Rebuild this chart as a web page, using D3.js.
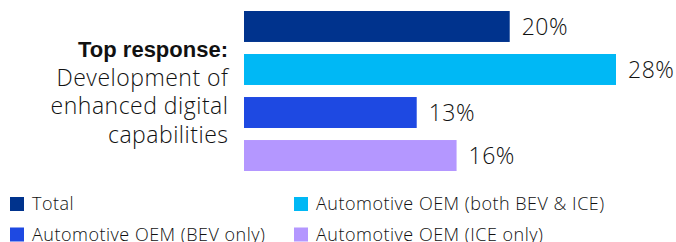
<!DOCTYPE html>
<html><head><meta charset="utf-8">
<script src="https://cdn.jsdelivr.net/npm/d3@7"></script>
<style>
body{margin:0;background:#fff;}
svg text{font-family:"Open Sans","Liberation Sans",Arial,sans-serif;fill:#111;font-weight:300;letter-spacing:0.5px;}
</style></head>
<body><svg id="c" width="676" height="242"></svg>
<script>
const series = ["Total","Automotive OEM (both BEV & ICE)","Automotive OEM (BEV only)","Automotive OEM (ICE only)"];
const values = [20,28,13,16];
const colors = ["#00338D","#00B8F5","#1E49E2","#B497FF"];
const titleBold = "Top response:";
const titleLines = ["Development of","enhanced digital","capabilities"];

const svg = d3.select("#c");
const x = d3.scaleLinear().domain([0,28]).range([244,616]);
const y = d3.scaleBand().domain(series).range([11,171]).paddingInner(0.28).paddingOuter(0);

svg.selectAll("rect.bar").data(series).join("rect").attr("class","bar")
  .attr("x",x(0)).attr("y",d=>y(d)).attr("height",y.bandwidth())
  .attr("width",(d,i)=>x(values[i])-x(0)).attr("fill",(d,i)=>colors[i]);

svg.selectAll("text.val").data(series).join("text").attr("class","val")
  .attr("x",(d,i)=>x(values[i])+12).attr("y",d=>y(d)+y.bandwidth()/2+8.5)
  .attr("font-size",23).text((d,i)=>values[i]+"%");

const t = svg.append("text").attr("text-anchor","end").attr("font-size",23);
t.append("tspan").attr("x",228).attr("y",57)
  .style("font-family","'Liberation Sans',Arial,sans-serif").style("font-weight","bold")
  .style("letter-spacing","0px").attr("font-size",22).text(titleBold);
titleLines.forEach((l,i)=>t.append("tspan").attr("x",228.5).attr("y",86+i*28.3).text(l));

const lx = [10,294], ly=[197,227.5];
series.forEach((s,i)=>{
  const cx = lx[i%2], cy = ly[Math.floor(i/2)];
  svg.append("rect").attr("x",cx).attr("y",cy).attr("width",14).attr("height",14).attr("fill",colors[i]);
  svg.append("text").attr("x",cx+22).attr("y",cy+13).attr("font-size",18).text(s);
});
</script></body></html>
